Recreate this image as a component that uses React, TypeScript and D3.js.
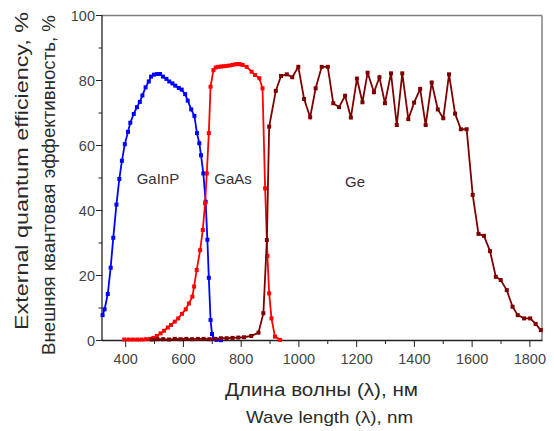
import React from "react";
import * as d3 from "d3";

const xTicks = [400, 600, 800, 1000, 1200, 1400, 1600, 1800];
const xMinor = [500, 700, 900, 1100, 1300, 1500, 1700];
const yTicks = [0, 20, 40, 60, 80, 100];
const yMinor = [10, 30, 50, 70, 90];

const gainpWl = [320, 327, 338, 348, 357, 368, 378, 387, 397, 408, 416, 428, 439, 449, 458, 469, 480, 488, 498, 509, 519, 529, 541, 551, 562, 572, 584, 594, 606, 615, 627, 638, 647, 655, 661, 669, 677, 683, 688, 694, 699, 705, 715, 730];
const gainpQe = [7.8, 9.6, 14.3, 22.4, 31.6, 41.8, 49.7, 55.3, 60.4, 64.2, 67, 69.7, 71.8, 73.4, 75.4, 77.9, 79.7, 81.2, 81.8, 82, 82, 81.2, 80.5, 79.7, 79.1, 78.4, 77.7, 77.2, 75.8, 73.8, 71.1, 69.1, 63.8, 60.7, 57, 51.4, 42.7, 31, 19.3, 6.3, 2, 0.5, 0.2, 0.1];

const gaasWl = [395, 410, 425, 440, 455, 470, 485, 496, 508, 521, 533, 546, 557, 570, 582, 595, 608, 619, 631, 637, 646, 658, 667, 675, 681, 688, 694, 704, 712, 721, 730, 740, 750, 760, 770, 780, 790, 796, 805, 819, 836, 848, 863, 874, 883, 891, 897, 905, 917, 935];
const gaasQe = [0.3, 0.3, 0.3, 0.3, 0.3, 0.4, 0.5, 0.8, 1.4, 2.2, 3, 4, 4.8, 5.8, 6.8, 8.2, 9.6, 11.4, 13.5, 16.6, 21.7, 27.8, 34, 42.2, 51.4, 63.8, 78.1, 83.2, 84, 84.2, 84.3, 84.4, 84.5, 84.6, 84.8, 85, 85.1, 85, 84.8, 84.2, 82.7, 81.7, 80.7, 77.6, 46.8, 26, 14.5, 6.8, 1.2, 0.2];

const geWl = [490, 510, 530, 550, 570, 590, 610, 630, 650, 670, 690, 710, 730, 750, 770, 790, 810, 835, 860, 877, 889, 897, 920, 938, 958, 977, 998, 1018, 1039, 1058, 1079, 1100, 1119, 1139, 1160, 1180, 1201, 1220, 1238, 1260, 1279, 1298, 1319, 1339, 1358, 1379, 1399, 1420, 1439, 1460, 1481, 1500, 1520, 1541, 1561, 1581, 1602, 1622, 1641, 1662, 1682, 1699, 1720, 1740, 1758, 1780, 1801, 1820, 1838];
const geQe = [0.3, 0.4, 0.4, 0.3, 0.5, 0.4, 0.5, 0.4, 0.5, 0.5, 0.4, 0.5, 0.7, 0.7, 0.8, 0.9, 1.0, 1.4, 2.4, 8.4, 30.9, 65.8, 76.8, 81.4, 81.9, 81, 84.2, 74.3, 68.7, 77.6, 84.2, 84.2, 73, 71.8, 75.3, 68.6, 80.6, 73.3, 82.4, 76.4, 81, 73, 82.2, 66.3, 82.2, 68.1, 73.2, 77.4, 66.3, 79.4, 71.1, 68.4, 81.9, 69.8, 65, 65, 44.8, 32.8, 32.2, 27.5, 19.6, 18.6, 15.5, 10.4, 7.8, 6.8, 6.8, 5.1, 3.2];

const series = [
  { name: "GaInP", wl: gainpWl, qe: gainpQe, color: "#0000ff" },
  { name: "GaAs", wl: gaasWl, qe: gaasQe, color: "#ff0000" },
  { name: "Ge", wl: geWl, qe: geQe, color: "#7f0000" },
];

const labels = [
  { text: "GaInP", wl: 438, qe: 48.2 },
  { text: "GaAs", wl: 707, qe: 48.2 },
  { text: "Ge", wl: 1160, qe: 47.3 },
];

export default function App() {
  const x = d3.scaleLinear().domain([318, 1842]).range([102, 542]);
  const y = d3.scaleLinear().domain([0, 100]).range([340.5, 15.5]);
  const line = d3
    .line<[number, number]>()
    .x((d) => x(d[0]))
    .y((d) => y(d[1]));
  const font = "'Liberation Sans', Arial, sans-serif";
  const textColor = "#2a2a2a";
  return (
    <svg width={554} height={431} style={{ position: "absolute", left: 0, top: 0 }} fontFamily={font}>
      <rect width={554} height={431} fill="#fff" />
      {/* box */}
      <line x1={102} x2={542} y1={15.5} y2={15.5} stroke="#808080" strokeWidth={1.5} />
      <line x1={542} x2={542} y1={15.5} y2={340.5} stroke="#808080" strokeWidth={1.5} />
      <line x1={102} x2={102} y1={15} y2={341} stroke="#222" strokeWidth={1.3} />
      <line x1={102} x2={542.5} y1={340.5} y2={340.5} stroke="#222" strokeWidth={1.3} />
      {/* x ticks */}
      {xTicks.map((t) => (
        <g key={"xt" + t}>
          <line x1={x(t)} x2={x(t)} y1={340.5} y2={347} stroke="#222" strokeWidth={1} />
          <text x={x(t)} y={363.5} textAnchor="middle" fontSize={14.5} fill="#444">
            {t}
          </text>
        </g>
      ))}
      {xMinor.map((t) => (
        <line key={"xm" + t} x1={x(t)} x2={x(t)} y1={340.5} y2={344} stroke="#222" strokeWidth={1} />
      ))}
      {/* y ticks */}
      {yTicks.map((t) => (
        <g key={"yt" + t}>
          <line x1={96} x2={102} y1={y(t)} y2={y(t)} stroke="#222" strokeWidth={1} />
          <text x={95} y={y(t) + 5.2} textAnchor="end" fontSize={14.5} fill="#444">
            {t}
          </text>
        </g>
      ))}
      {yMinor.map((t) => (
        <line key={"ym" + t} x1={98.5} x2={102} y1={y(t)} y2={y(t)} stroke="#222" strokeWidth={1} />
      ))}
      {/* series */}
      {series.map((s) => {
        const pts: [number, number][] = s.wl.map((w, i) => [w, s.qe[i]]);
        return (
          <g key={s.name}>
            <path d={line(pts) || ""} fill="none" stroke={s.color} strokeWidth={1.8} />
            {pts.map((p, i) => (
              <rect key={i} x={x(p[0]) - 2} y={y(p[1]) - 2} width={4} height={4} fill={s.color} />
            ))}
          </g>
        );
      })}
      {/* curve labels */}
      {labels.map((l) => (
        <text key={l.text} x={x(l.wl)} y={y(l.qe)} fontSize={15} fill="#333">
          {l.text}
        </text>
      ))}
      {/* axis titles */}
      <text x={321.5} y={396} textAnchor="middle" fontSize={18} fill={textColor} textLength={193} lengthAdjust="spacingAndGlyphs">
        Длина волны (λ), нм
      </text>
      <text x={329.5} y={423} textAnchor="middle" fontSize={17} fill={textColor} textLength={167} lengthAdjust="spacingAndGlyphs">
        Wave length (λ), nm
      </text>
      <text transform="translate(28,171) rotate(-90)" textAnchor="middle" fontSize={17.5} fill={textColor} textLength={318} lengthAdjust="spacingAndGlyphs">
        External quantum efficiency, %
      </text>
      <text transform="translate(54.5,185) rotate(-90)" textAnchor="middle" fontSize={17.5} fill={textColor} textLength={340} lengthAdjust="spacingAndGlyphs">
        Внешняя квантовая эффективность, %
      </text>
    </svg>
  );
}
